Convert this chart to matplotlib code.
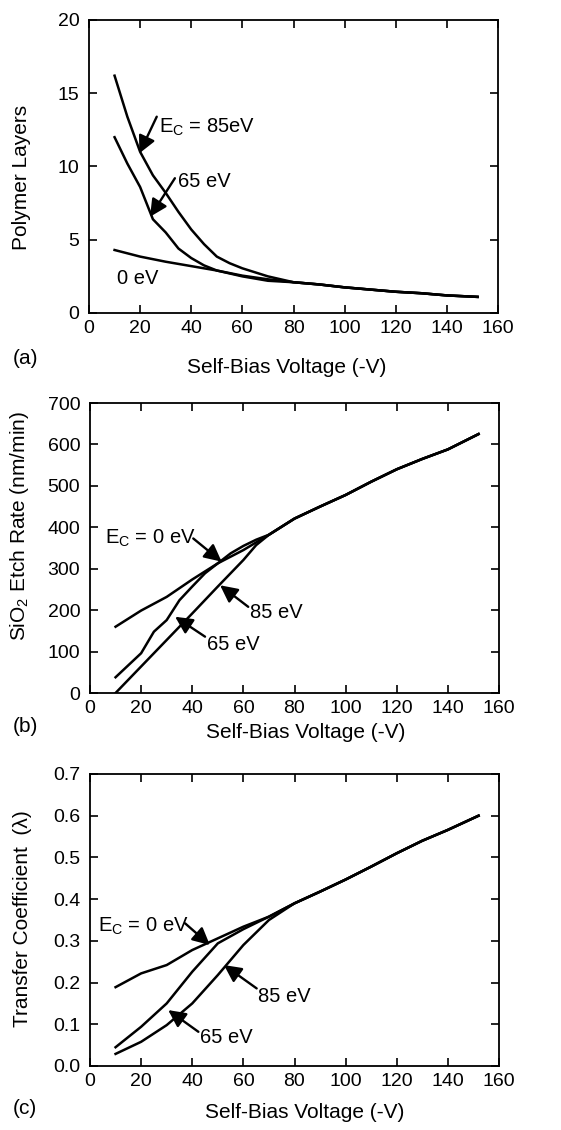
import numpy as np
import matplotlib
matplotlib.use("Agg")
import matplotlib.pyplot as plt

plt.rcParams['font.family'] = ['Liberation Sans', 'DejaVu Sans']
plt.rcParams['mathtext.default'] = 'regular'

# ---------------------------------------------------------------
# data
# (a) polymer layers
xa_85 = [10, 15, 20, 25, 30, 35, 40, 45, 50, 55, 60, 70, 80, 90, 100, 110, 120, 130, 140, 152]
ya_85 = [16.2, 13.4, 11.0, 9.4, 8.2, 6.9, 5.7, 4.7, 3.85, 3.4, 3.05, 2.5, 2.1, 1.95, 1.75, 1.6, 1.45, 1.35, 1.2, 1.1]
xa_65 = [10, 15, 20, 25, 30, 35, 40, 45, 50, 60, 70, 80, 90, 100, 110, 120, 130, 140, 152]
ya_65 = [12.0, 10.2, 8.6, 6.4, 5.5, 4.4, 3.75, 3.25, 2.9, 2.5, 2.2, 2.1, 1.95, 1.75, 1.6, 1.45, 1.35, 1.2, 1.1]
xa_0 = [10, 20, 30, 40, 50, 60, 70, 80, 90, 100, 110, 120, 130, 140, 152]
ya_0 = [4.3, 3.85, 3.5, 3.2, 2.9, 2.55, 2.3, 2.1, 1.95, 1.75, 1.6, 1.45, 1.35, 1.2, 1.1]

# (b) SiO2 etch rate
xb_0 = [10, 20, 30, 40, 50, 60, 70, 80, 90, 100, 110, 120, 130, 140, 152]
yb_0 = [160, 199, 232, 274, 313, 345, 382, 421, 450, 478, 510, 540, 565, 588, 625]
xb_65 = [10, 20, 25, 30, 35, 40, 45, 50, 55, 60, 65, 70, 80, 90, 100, 110, 120, 130, 140, 152]
yb_65 = [38, 96, 148, 176, 224, 257, 289, 313, 337, 355, 370, 382, 421, 450, 478, 510, 540, 565, 588, 625]
xb_85 = [10, 20, 30, 40, 50, 55, 60, 65, 70, 80, 90, 100, 110, 120, 130, 140, 152]
yb_85 = [0, 64, 128, 192, 257, 289, 321, 357, 382, 421, 450, 478, 510, 540, 565, 588, 625]

# (c) transfer coefficient
xc = [10, 20, 30, 40, 50, 60, 70, 80, 90, 100, 110, 120, 130, 140, 152]
yc_0 = [0.189, 0.222, 0.242, 0.278, 0.306, 0.334, 0.358, 0.390, 0.418, 0.447, 0.478, 0.510, 0.540, 0.566, 0.600]
yc_65 = [0.045, 0.094, 0.150, 0.226, 0.294, 0.328, 0.358, 0.390, 0.418, 0.447, 0.478, 0.510, 0.540, 0.566, 0.600]
yc_85 = [0.029, 0.058, 0.098, 0.150, 0.218, 0.290, 0.350, 0.390, 0.418, 0.447, 0.478, 0.510, 0.540, 0.566, 0.600]

xticks = [0, 20, 40, 60, 80, 100, 120, 140, 160]
yticks_a = [0, 5, 10, 15, 20]
yticks_b = [0, 100, 200, 300, 400, 500, 600, 700]
yticks_c = [0.0, 0.1, 0.2, 0.3, 0.4, 0.5, 0.6, 0.7]

# ---------------------------------------------------------------
W, H = 561, 1130
fig = plt.figure(figsize=(W / 100, H / 100), dpi=100)

def px_axes(l, r, t, b):
    return fig.add_axes([l / W, 1 - b / H, (r - l) / W, (b - t) / H])

ax_a = px_axes(89, 498, 20, 313)
ax_b = px_axes(90, 499, 403, 693)
ax_c = px_axes(90, 499, 774, 1066)

TICK_FS = 14
LAB_FS = 15
ANN_FS = 14.5
LW = 1.8
arrow = dict(arrowstyle='-|>', color='k', lw=1.7, mutation_scale=26,
             shrinkA=0, shrinkB=0)

def style(ax, yticks, fmt=None):
    ax.set_xlim(0, 160)
    ax.set_ylim(yticks[0], yticks[-1])
    ax.set_xticks(xticks)
    ax.set_yticks(yticks)
    if fmt:
        ax.set_yticklabels([fmt.format(v) for v in yticks])
    ax.tick_params(direction='in', top=True, right=True, length=6, width=1.2,
                   labelsize=TICK_FS)
    ax.tick_params(axis='y', pad=7)
    ax.tick_params(axis='x', pad=5)
    for s in ax.spines.values():
        s.set_linewidth(1.3)

# (a)
ax_a.plot(xa_85, ya_85, 'k-', lw=LW)
ax_a.plot(xa_65, ya_65, 'k-', lw=LW)
ax_a.plot(xa_0, ya_0, 'k-', lw=LW)
style(ax_a, yticks_a)
ax_a.set_xlabel('Self-Bias Voltage (-V)', fontsize=LAB_FS)
ax_a.xaxis.set_label_coords(0.484, -0.154)
ax_a.set_ylabel('Polymer Layers', fontsize=LAB_FS)
ax_a.yaxis.set_label_coords(-0.1425, 0.464)
ax_a.text(27.4, 12.3, 'E$_{C}$ = 85eV', fontsize=ANN_FS, va='baseline')
ax_a.annotate('', xy=(19.7, 10.9), xytext=(26.5, 13.4), arrowprops=arrow)
ax_a.text(34.8, 8.62, '65 eV', fontsize=ANN_FS, va='baseline')
ax_a.annotate('', xy=(23.9, 6.57), xytext=(33.6, 9.2), arrowprops=arrow)
ax_a.text(11.0, 1.96, '0 eV', fontsize=ANN_FS, va='baseline')

# (b)
ax_b.plot(xb_0, yb_0, 'k-', lw=LW)
ax_b.plot(xb_65, yb_65, 'k-', lw=LW)
ax_b.plot(xb_85, yb_85, 'k-', lw=LW)
style(ax_b, yticks_b)
ax_b.set_xlabel('Self-Bias Voltage (-V)', fontsize=LAB_FS)
ax_b.xaxis.set_label_coords(0.528, -0.103)
ax_b.set_ylabel('SiO$_{2}$ Etch Rate (nm/min)', fontsize=LAB_FS)
ax_b.yaxis.set_label_coords(-0.144, 0.577)
ax_b.text(5.9, 361, 'E$_{C}$ = 0 eV', fontsize=ANN_FS, va='baseline')
ax_b.annotate('', xy=(51.5, 317), xytext=(40.4, 373), arrowprops=arrow)
ax_b.text(62.6, 180, '85 eV', fontsize=ANN_FS, va='baseline')
ax_b.annotate('', xy=(50.9, 260), xytext=(61.9, 208), arrowprops=arrow)
ax_b.text(45.6, 105, '65 eV', fontsize=ANN_FS, va='baseline')
ax_b.annotate('', xy=(33.3, 184), xytext=(45.0, 136), arrowprops=arrow)

# (c)
ax_c.plot(xc, yc_0, 'k-', lw=LW)
ax_c.plot(xc, yc_65, 'k-', lw=LW)
ax_c.plot(xc, yc_85, 'k-', lw=LW)
style(ax_c, yticks_c, '{:.1f}')
ax_c.set_xlabel('Self-Bias Voltage (-V)', fontsize=LAB_FS)
ax_c.xaxis.set_label_coords(0.526, -0.127)
ax_c.set_ylabel('Transfer Coefficient  (λ)', fontsize=LAB_FS)
ax_c.yaxis.set_label_coords(-0.1425, 0.506)
ax_c.text(3.0, 0.322, 'E$_{C}$ = 0 eV', fontsize=ANN_FS, va='baseline')
ax_c.annotate('', xy=(46.9, 0.290), xytext=(37.2, 0.342), arrowprops=arrow)
ax_c.text(65.8, 0.154, '85 eV', fontsize=ANN_FS, va='baseline')
ax_c.annotate('', xy=(52.4, 0.242), xytext=(65.2, 0.186), arrowprops=arrow)
ax_c.text(43.0, 0.054, '65 eV', fontsize=ANN_FS, va='baseline')
ax_c.annotate('', xy=(30.6, 0.134), xytext=(42.4, 0.082), arrowprops=arrow)

# panel letters
for lab, yc in [('(a)', 358.5), ('(b)', 727), ('(c)', 1109)]:
    fig.text(13 / W, 1 - yc / H, lab, fontsize=LAB_FS, va='center', ha='left')

fig.savefig('out.png', dpi=100)
